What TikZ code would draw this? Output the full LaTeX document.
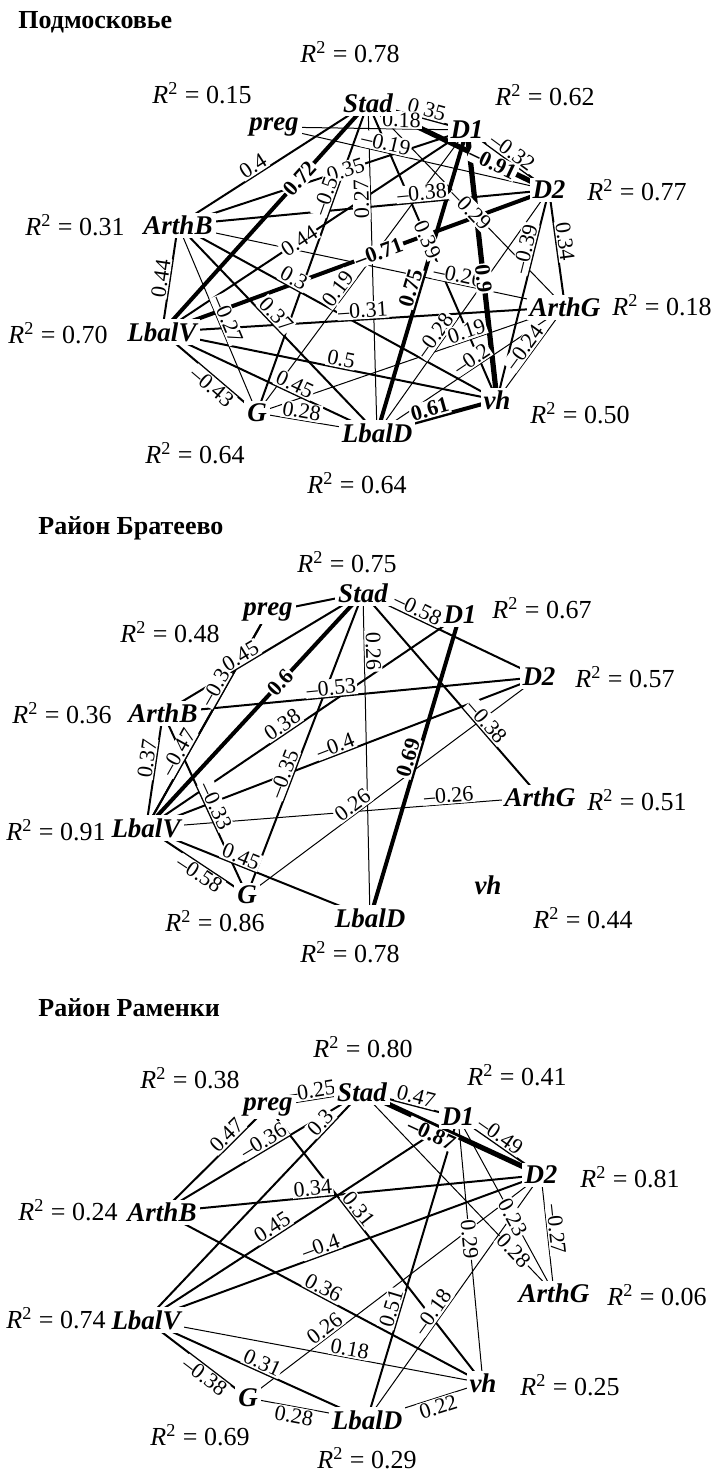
\documentclass[tikz,border=0pt]{standalone}
\usepackage{fontspec}
\setmainfont{Liberation Serif}
\usetikzlibrary{backgrounds}

\tikzset{
  var/.style={font=\fontsize{13.5}{15}\selectfont\bfseries\itshape, fill=white, inner sep=1.5pt},
  rsq/.style={font=\fontsize{13}{15}\selectfont, inner sep=0pt},
  ttl/.style={font=\fontsize{13}{15}\selectfont\bfseries, anchor=west, inner sep=0pt},
  lnA/.style={line width=0.5pt},
  lnB/.style={line width=1pt},
  lnC/.style={line width=2pt},
  lnD/.style={line width=2.6pt},
  lbA/.style={sloped, fill=white, inner sep=0.6pt, font=\fontsize{11}{12}\selectfont},
  lbB/.style={lbA},
  lbC/.style={lbA, font=\fontsize{11}{12}\selectfont\bfseries},
  lbD/.style={lbC},
  onl/.style={},
  abl/.style={above},
  bel/.style={below},
  abu/.style={above, allow upside down}
}

% from/to/label/pos/width/side
\def\edgesA{Stad/D1/0.35/0.57/B/abl, preg/D1/0.18/0.66/A/abl, preg/D2/–0.19/0.40/A/abl,
  D1/D2/–0.32/0.49/B/abl, Stad/D2/–0.91/0.69/D/onl, ArthB/Stad/0.4/0.42/B/abl,
  Stad/LbalV/0.72/0.33/C/onl, ArthB/D1/0.35/0.58/B/onl, G/Stad/–0.5/0.69/B/abl,
  LbalD/Stad/0.27/0.71/A/abu, ArthB/D2/–0.38/0.66/B/abl, Stad/ArthG/–0.29/0.52/A/onl,
  Stad/vh/0.39/0.46/B/onl, LbalV/D1/0.44/0.45/B/onl, D2/vh/–0.39/0.29/B/abl,
  D2/ArthG/0.34/0.45/B/abl, LbalV/ArthB/0.44/0.49/B/abl, LbalV/D2/–0.71/0.56/C/onl,
  G/D1/0.19/0.42/A/abl, ArthB/ArthG/–0.26/0.72/A/abl, D1/vh/0.9/0.55/D/onl,
  LbalD/D1/0.75/0.47/C/abl, ArthB/G/–0.27/0.52/A/abl, ArthB/LbalD/0.37/0.46/B/abl,
  LbalV/ArthG/–0.31/0.50/B/abl, LbalD/D2/–0.28/0.38/A/abl, LbalD/ArthG/–0.2/0.53/A/abl,
  vh/ArthG/–0.24/0.51/A/abl, LbalV/vh/0.5/0.53/B/abl, LbalV/G/–0.43/0.59/B/bel,
  LbalV/LbalD/0.45/0.60/B/abl, G/LbalD/0.28/0.36/A/abl, LbalD/vh/0.61/0.46/C/abl,
  ArthB/vh/0.3/0.35/B/abl, G/ArthG/0.19/0.69/A/abl}
\def\edgesB{Stad/D2/–0.58/0.29/B/abl, ArthB/Stad/0.45/0.41/B/abl, LbalV/preg/–0.47/0.33/B/abl,
  LbalV/preg/–0.3/0.63/B/abl, Stad/LbalV/0.6/0.38/C/onl, G/Stad/–0.35/0.39/B/abl,
  Stad/LbalD/0.26/0.18/A/abl, Stad/ArthG/–0.38/0.66/B/abl, ArthB/D2/–0.53/0.45/B/abl,
  LbalV/ArthB/0.37/0.59/B/abl, ArthB/G/–0.33/0.53/B/abl, LbalV/D1/0.38/0.45/B/abl,
  LbalV/D2/–0.4/0.49/B/abl, LbalV/ArthG/–0.26/0.77/A/abl, LbalV/G/–0.58/0.58/B/bel,
  LbalV/LbalD/0.45/0.41/B/abl, G/D2/0.26/0.38/A/abl, D1/LbalD/0.69/0.48/C/abl}
\def\edgesC{preg/Stad/–0.25/0.47/A/abl, Stad/D1/0.47/0.54/B/abl, D1/D2/–0.49/0.45/B/abl,
  Stad/D2/–0.87/0.41/D/bel, ArthB/preg/0.47/0.67/B/abl, ArthB/Stad/–0.36/0.53/B/abl,
  LbalV/Stad/0.3/0.84/B/abl, LbalV/D1/0.45/0.42/B/abl, ArthB/D2/0.34/0.40/B/abl,
  ArthB/vh/0.36/0.49/B/abl, LbalV/D2/–0.4/0.45/B/abl, preg/vh/0.31/0.39/B/abl,
  LbalD/D1/0.51/0.36/B/abl, G/D2/0.26/0.28/A/abl, LbalD/D2/–0.18/0.42/A/abl,
  D1/ArthG/0.23/0.57/A/onl, D1/vh/0.29/0.46/A/onl, Stad/ArthG/0.28/0.79/A/onl,
  D2/ArthG/–0.27/0.47/A/abl, LbalV/vh/0.18/0.60/A/abl, LbalV/LbalD/0.31/0.51/B/abl,
  LbalV/G/–0.38/0.63/B/bel, G/LbalD/0.28/0.40/A/bel, LbalD/vh/0.22/0.59/A/bel}

\newcommand{\drawedges}[2]{%
  \foreach \a/\b/\r/\p/\w/\s in #2
    \draw[ln\w] (#1\a.center) -- (#1\b.center);
  \foreach \a/\b/\r/\p/\w/\s in #2
    \path (#1\a.center) -- node[lb\w,\s,pos=\p]{\r} (#1\b.center);
}

\begin{document}
\begin{tikzpicture}[x=0.5pt, y=-0.5pt]
\useasboundingbox (0,0) rectangle (714,1474);

% panel titles
\node[ttl] (t1) at (18,22)   {Подмосковье};
\node[ttl] (t2) at (38,528)  {Район Братеево};
\node[ttl] (t3) at (38,1008) {Район Раменки};

% variables
\foreach \n/\x/\y in {Stad/368/103, D1/467/130, D2/549/190, ArthG/565/307, vh/497/400,
    LbalD/377/433, G/257/413, LbalV/162/332, ArthB/178/225, preg/274/127}
  \node[var] (a\n) at (\x,\y) {\n};
\foreach \n/\x/\y in {Stad/363/593, D1/460/615, D2/539/677, ArthG/540/797, vh/488/885,
    LbalD/370/918, G/247/895, LbalV/146/828, ArthB/163/713, preg/268/612}
  \node[var] (b\n) at (\x,\y) {\n};
\foreach \n/\x/\y in {Stad/362/1092, D1/458/1117, D2/541/1175, ArthG/554/1293, vh/483/1383,
    LbalD/367/1420, G/248/1398, LbalV/146/1320, ArthB/162/1212, preg/268/1107}
  \node[var] (c\n) at (\x,\y) {\n};

% R^2 values
\foreach \v/\x/\y [count=\i] in {0.78/350/52, 0.15/202/93, 0.62/545/95, 0.77/637/190,
    0.31/75/225, 0.18/662/305, 0.70/58/333, 0.50/580/413, 0.64/195/453, 0.64/357/483}
  \node[rsq] (ra\i) at (\x,\y) {\textit{R}\textsuperscript{2} = \v};
\foreach \v/\x/\y [count=\i] in {0.75/347/562, 0.67/542/608, 0.48/170/632, 0.57/625/677,
    0.36/62/713, 0.91/56/830, 0.51/637/800, 0.86/215/921, 0.44/583/918, 0.78/350/952}
  \node[rsq] (rb\i) at (\x,\y) {\textit{R}\textsuperscript{2} = \v};
\foreach \v/\x/\y [count=\i] in {0.80/363/1047, 0.38/190/1078, 0.41/517/1075, 0.81/630/1177,
    0.24/68/1210, 0.06/657/1295, 0.74/56/1318, 0.25/570/1385, 0.69/200/1435, 0.29/367/1458}
  \node[rsq] (rc\i) at (\x,\y) {\textit{R}\textsuperscript{2} = \v};

% correlations
\begin{scope}[on background layer]
  \drawedges{a}{\edgesA}
  \draw[lnB] (bpreg.center) -- (bStad.center);
  \drawedges{b}{\edgesB}
  \drawedges{c}{\edgesC}
\end{scope}
\end{tikzpicture}
\end{document}
